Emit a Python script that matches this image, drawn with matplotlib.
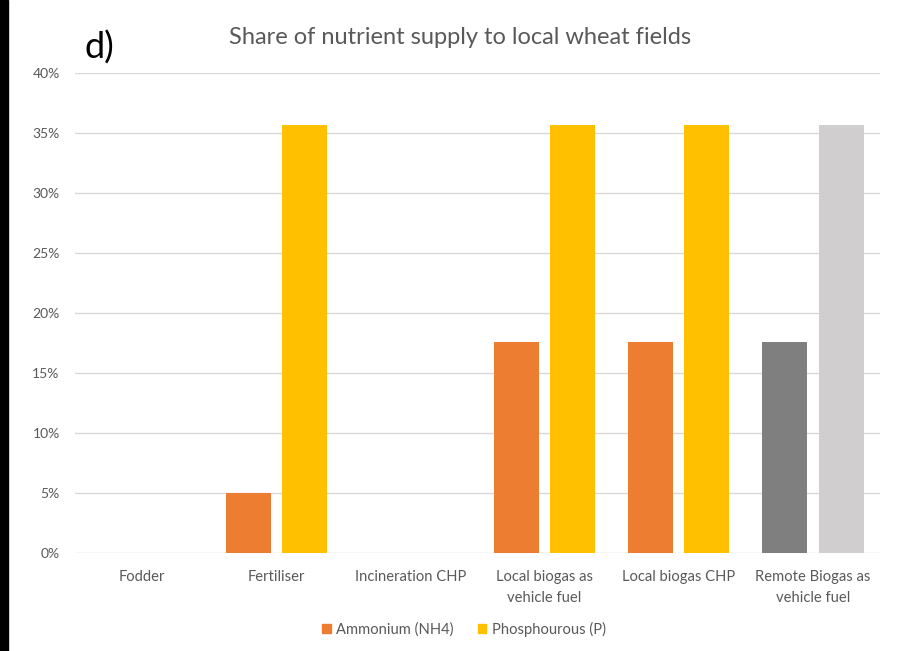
import numpy as np
import matplotlib
matplotlib.use("Agg")
import matplotlib.pyplot as plt
from matplotlib.patches import Rectangle, Patch

categories = ["Fodder", "Fertiliser", "Incineration CHP", "Local biogas as\nvehicle fuel",
              "Local biogas CHP", "Remote Biogas as\nvehicle fuel"]
ammonium = [0.0, 5.0, 0.0, 17.6, 17.6, 17.6]
phosphorus = [0.0, 35.7, 0.0, 35.7, 35.7, 35.7]
amm_colors = ["#ED7D31"] * 5 + ["#7F7F7F"]
pho_colors = ["#FFC000"] * 5 + ["#D0CECE"]
yticks = [0, 5, 10, 15, 20, 25, 30, 35, 40]

plt.rcParams["font.family"] = ["Lato", "DejaVu Sans"]
txt = "#595959"

fig = plt.figure(figsize=(9, 6.51), dpi=100)
ax = fig.add_axes([75 / 900, 1 - 553 / 651, 805 / 900, 480 / 651])

x = np.arange(len(categories))
w = 0.335
off = 0.21
ax.bar(x - off, ammonium, w, color=amm_colors, zorder=3)
ax.bar(x + off, phosphorus, w, color=pho_colors, zorder=3)

ax.set_xlim(-0.5, len(categories) - 0.5)
ax.set_ylim(0, 40)
ax.set_yticks(yticks)
ax.set_yticklabels([f"{v}%" for v in yticks], color=txt, fontsize=10)
ax.set_xticks(x)
ax.set_xticklabels(categories, color=txt, fontsize=10.6, linespacing=1.7)
ax.tick_params(axis="both", length=0)
ax.tick_params(axis="x", pad=12)
ax.tick_params(axis="y", pad=11)
ax.grid(axis="y", color="#D9D9D9", lw=1, zorder=0)
for s in ax.spines.values():
    s.set_visible(False)

fig.text(460 / 900, 1 - 38 / 651, "Share of nutrient supply to local wheat fields",
         ha="center", va="center", fontsize=17, color=txt)
fig.text(84 / 900, 1 - 48 / 651, "d)", ha="left", va="center", fontsize=26, color="black")

handles = [Patch(color="#ED7D31", label="Ammonium (NH4)"),
           Patch(color="#FFC000", label="Phosphourous (P)")]
fig.legend(handles=handles, loc="center", bbox_to_anchor=(464 / 900, 1 - 629 / 651),
           ncol=2, frameon=False, fontsize=10.6, handlelength=0.6, handleheight=0.6,
           handletextpad=0.35, columnspacing=1.6, labelcolor=txt)

fig.add_artist(Rectangle((0, 0), 8 / 900, 1, transform=fig.transFigure, color="black"))

fig.savefig("out.png", dpi=100)
